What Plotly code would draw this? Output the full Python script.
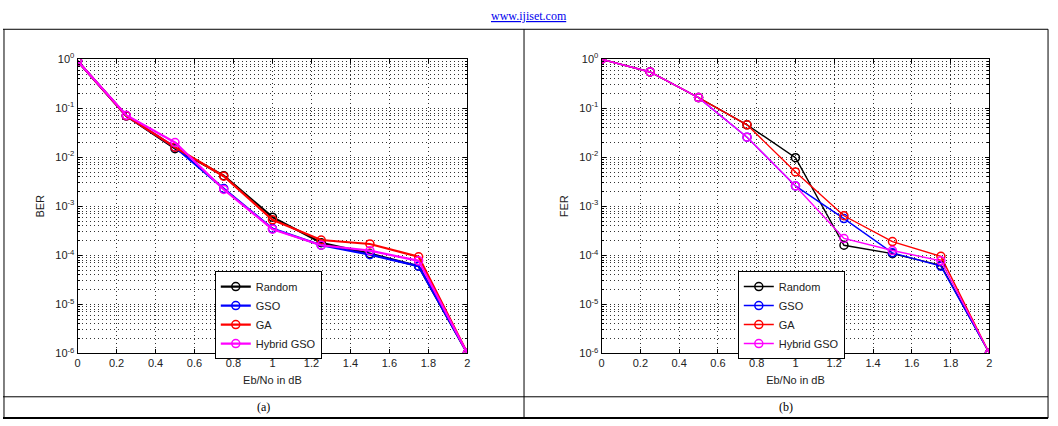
import plotly.graph_objects as go

W, H = 1058, 426

# ---------------- data ----------------
ebno = [0, 0.25, 0.5, 0.75, 1.0, 1.25, 1.5, 1.75, 2.0]
series_names = ["Random", "GSO", "GA", "Hybrid GSO"]
series_colors = ["#000000", "#0000FF", "#FF0000", "#FF00FF"]

ber_random = [0.92, 0.070, 0.0150, 0.0042, 0.00060, 0.000180, 0.000108, 0.000060, 1e-6]
ber_gso    = [0.92, 0.070, 0.0160, 0.0023, 0.00035, 0.000160, 0.000103, 0.000060, 1e-6]
ber_ga     = [0.92, 0.070, 0.0160, 0.0041, 0.00053, 0.000205, 0.000170, 0.000093, 1e-6]
ber_hybrid = [0.92, 0.072, 0.0200, 0.0022, 0.00034, 0.000160, 0.000124, 0.000077, 1e-6]

fer_random = [1.0, 0.55, 0.165, 0.046, 0.0098, 0.000160, 0.000108, 0.000062, 1e-6]
fer_gso    = [1.0, 0.55, 0.165, 0.0256, 0.0026, 0.000560, 0.000112, 0.000060, 1e-6]
fer_ga     = [1.0, 0.55, 0.165, 0.046, 0.0050, 0.000640, 0.000190, 0.000095, 1e-6]
fer_hybrid = [1.0, 0.55, 0.165, 0.0256, 0.0026, 0.000220, 0.000125, 0.000077, 1e-6]

x_ticks = [0, 0.2, 0.4, 0.6, 0.8, 1, 1.2, 1.4, 1.6, 1.8, 2]
y_exps = [0, -1, -2, -3, -4, -5, -6]

# ---------------- helpers ----------------
def px_x(p):
    return p / W

def px_y(p):
    return 1 - p / H

FONT = "Liberation Sans, Arial, sans-serif"
SERIF = "Liberation Serif, Times New Roman, serif"

fig = go.Figure()

ber_sets = [ber_random, ber_gso, ber_ga, ber_hybrid]
fer_sets = [fer_random, fer_gso, fer_ga, fer_hybrid]

for name, col, ys in zip(series_names, series_colors, ber_sets):
    fig.add_trace(go.Scatter(
        x=ebno, y=ys, name=name, mode="lines+markers",
        line=dict(color=col, width=2.2),
        marker=dict(symbol="circle-open", size=8, color=col, line=dict(width=1.5, color=col)),
        xaxis="x", yaxis="y", legend="legend"))

for name, col, ys in zip(series_names, series_colors, fer_sets):
    fig.add_trace(go.Scatter(
        x=ebno, y=ys, name=name, mode="lines+markers",
        line=dict(color=col, width=1.4),
        marker=dict(symbol="circle-open", size=8, color=col, line=dict(width=1.5, color=col)),
        xaxis="x2", yaxis="y2", legend="legend2"))

major_y = [10.0 ** e for e in y_exps]
major_y_txt = ["10<sup>%d</sup>" % e for e in y_exps]
minor_y = [m * 10.0 ** e for e in range(-6, 0) for m in range(2, 10)]

GRID = "#333333"
DOT = "1px,3px"

def xaxis_cfg(x0, x1, anchor):
    return dict(
        domain=[px_x(x0), px_x(x1)], anchor=anchor, range=[0, 2],
        tickmode="array", tickvals=x_ticks,
        ticktext=[("%g" % v) for v in x_ticks],
        ticks="inside", ticklen=4, tickcolor="#000",
        showline=True, linecolor="#000", linewidth=1, mirror="allticks",
        showgrid=True, gridcolor=GRID, gridwidth=1, griddash=DOT,
        zeroline=False,
        tickfont=dict(family=FONT, size=11, color="#222"),
        title=dict(text="Eb/No in dB", font=dict(family=FONT, size=11, color="#222"), standoff=7),
    )

def yaxis_cfg(label, anchor):
    return dict(
        domain=[px_y(357), px_y(53)], anchor=anchor, type="log", range=[-6, 0],
        tickmode="array", tickvals=major_y, ticktext=major_y_txt,
        ticks="inside", ticklen=4, tickcolor="#000",
        showline=True, linecolor="#000", linewidth=1, mirror="allticks",
        showgrid=True, gridcolor=GRID, gridwidth=1, griddash=DOT,
        zeroline=False,
        minor=dict(tickmode="array", tickvals=minor_y, ticks="inside", ticklen=2,
                   tickcolor="#000", showgrid=True, gridcolor=GRID, gridwidth=1, griddash=DOT),
        tickfont=dict(family=FONT, size=11, color="#222"),
        title=dict(text=label, font=dict(family=FONT, size=11, color="#222"), standoff=8),
    )

legend_common = dict(
    bgcolor="white", bordercolor="#000", borderwidth=1,
    font=dict(family=FONT, size=11, color="#222"),
    xanchor="left", yanchor="top", tracegroupgap=0, itemwidth=30,
)

fig.update_layout(
    width=W, height=H,
    margin=dict(l=0, r=0, t=0, b=0),
    paper_bgcolor="white", plot_bgcolor="white",
    xaxis=xaxis_cfg(75, 467, "y"),
    yaxis=yaxis_cfg("BER", "x"),
    xaxis2=xaxis_cfg(602, 992, "y2"),
    yaxis2=yaxis_cfg("FER", "x2"),
    legend=dict(x=px_x(213), y=px_y(272), **legend_common),
    legend2=dict(x=px_x(739), y=px_y(272), **legend_common),
)

# table borders
line_style = dict(color="#000", width=1)
shapes = []
for yy in [22, 402]:
    shapes.append(dict(type="line", xref="paper", yref="paper",
                       x0=px_x(0), x1=px_x(1051), y0=px_y(yy), y1=px_y(yy), line=line_style))
shapes.append(dict(type="line", xref="paper", yref="paper",
                   x0=px_x(0), x1=px_x(1051), y0=px_y(424), y1=px_y(424), line=dict(color="#000", width=2)))
for xx in [1, 524, 1051]:
    shapes.append(dict(type="line", xref="paper", yref="paper",
                       x0=px_x(xx), x1=px_x(xx), y0=px_y(22), y1=px_y(424), line=line_style))
fig.update_layout(shapes=shapes)

fig.add_annotation(text="<u>www.ijiset.com</u>", xref="paper", yref="paper",
                   x=px_x(529), y=px_y(8), xanchor="center", yanchor="middle", showarrow=False,
                   font=dict(family=SERIF, size=12, color="#0000EE"))
fig.add_annotation(text="(a)", xref="paper", yref="paper", x=px_x(262), y=px_y(413),
                   xanchor="center", yanchor="middle",
                   showarrow=False, font=dict(family=SERIF, size=12, color="#000"))
fig.add_annotation(text="(b)", xref="paper", yref="paper", x=px_x(787), y=px_y(413),
                   xanchor="center", yanchor="middle",
                   showarrow=False, font=dict(family=SERIF, size=12, color="#000"))

fig.write_html("out.html")
